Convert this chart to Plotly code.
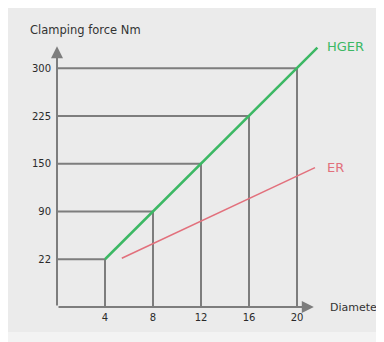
import plotly.graph_objects as go

# reference values (diameter vs clamping force level)
diameters = [4, 8, 12, 16, 20]
force_labels = ["22", "90", "150", "225", "300"]
force_levels = [1, 2, 3, 4, 5]

hger_diam = [4, 8, 12, 16, 20, 21.7]
hger_level = [1, 2, 3, 4, 5, 5.43]

er_diam = [5.4, 21.5]
er_level = [1.02, 2.92]

GRAY = "#7d7d7d"
GREEN = "#3cb864"
RED = "#e2707c"

W, H = 376, 334          # page body adds 8px margin
L, B = 49, 35
PW, PH = W - L, H - B    # plot area size

fig = go.Figure()

# step lines: horizontal from the y axis, vertical down to the x axis
gx, gy = [], []
for d, lv in zip(diameters, force_levels):
    gx += [0, d, d, None]
    gy += [lv, lv, 0, None]
fig.add_trace(go.Scatter(x=gx, y=gy, mode="lines",
                         line=dict(color=GRAY, width=2), hoverinfo="skip"))

fig.add_trace(go.Scatter(x=er_diam, y=er_level, mode="lines",
                         line=dict(color=RED, width=1.5), name="ER"))
fig.add_trace(go.Scatter(x=hger_diam, y=hger_level, mode="lines",
                         line=dict(color=GREEN, width=2.5), name="HGER"))

# axes with arrows
fig.add_annotation(x=0, y=5.46, ax=0, ay=0, xref="x", yref="y", axref="x", ayref="y",
                   showarrow=True, arrowhead=2, arrowsize=1.2, arrowwidth=2,
                   arrowcolor=GRAY, text="")
fig.add_annotation(x=21.4, y=0, ax=0, ay=0, xref="x", yref="y", axref="x", ayref="y",
                   showarrow=True, arrowhead=2, arrowsize=1.2, arrowwidth=2,
                   arrowcolor=GRAY, text="")

fig.add_annotation(x=22.3, y=5.46, xref="x", yref="y", text="HGER", showarrow=False,
                   xanchor="left", yanchor="middle", font=dict(color=GREEN, size=13))
fig.add_annotation(x=22.3, y=2.92, xref="x", yref="y", text="ER", showarrow=False,
                   xanchor="left", yanchor="middle", font=dict(color=RED, size=13))

fig.add_annotation(x=(20 - L) / PW, y=(PH - 22) / PH, xref="paper", yref="paper",
                   text="Clamping force Nm", showarrow=False, xanchor="left",
                   yanchor="middle", font=dict(size=11.5, color="#333"))
fig.add_annotation(x=(320 - L) / PW, y=0, xref="paper", yref="paper",
                   text="Diameter", showarrow=False, xanchor="left",
                   yanchor="middle", font=dict(size=11, color="#333"))

# lighter strip along the bottom
fig.add_shape(type="rect", xref="paper", yref="paper", layer="below",
              x0=-L / PW, x1=1, y0=-B / PH, y1=-(324 - PH) / PH,
              fillcolor="#f3f3f3", line_width=0)

fig.update_layout(
    width=W, height=H,
    margin=dict(l=L, r=0, t=0, b=B),
    paper_bgcolor="#ebebeb",
    plot_bgcolor="rgba(0,0,0,0)",
    showlegend=False,
    font=dict(family="DejaVu Sans", size=10, color="#2a2a2a"),
    xaxis=dict(range=[0, PW / 12], tickvals=diameters, ticktext=[str(d) for d in diameters],
               showgrid=False, zeroline=False, showline=False, ticks="",
               ticklabelstandoff=3),
    yaxis=dict(range=[0, PH / 47.75], tickvals=force_levels, ticktext=force_labels,
               showgrid=False, zeroline=False, showline=False, ticks="",
               ticklabelstandoff=5),
)

fig.write_html("out.html")
